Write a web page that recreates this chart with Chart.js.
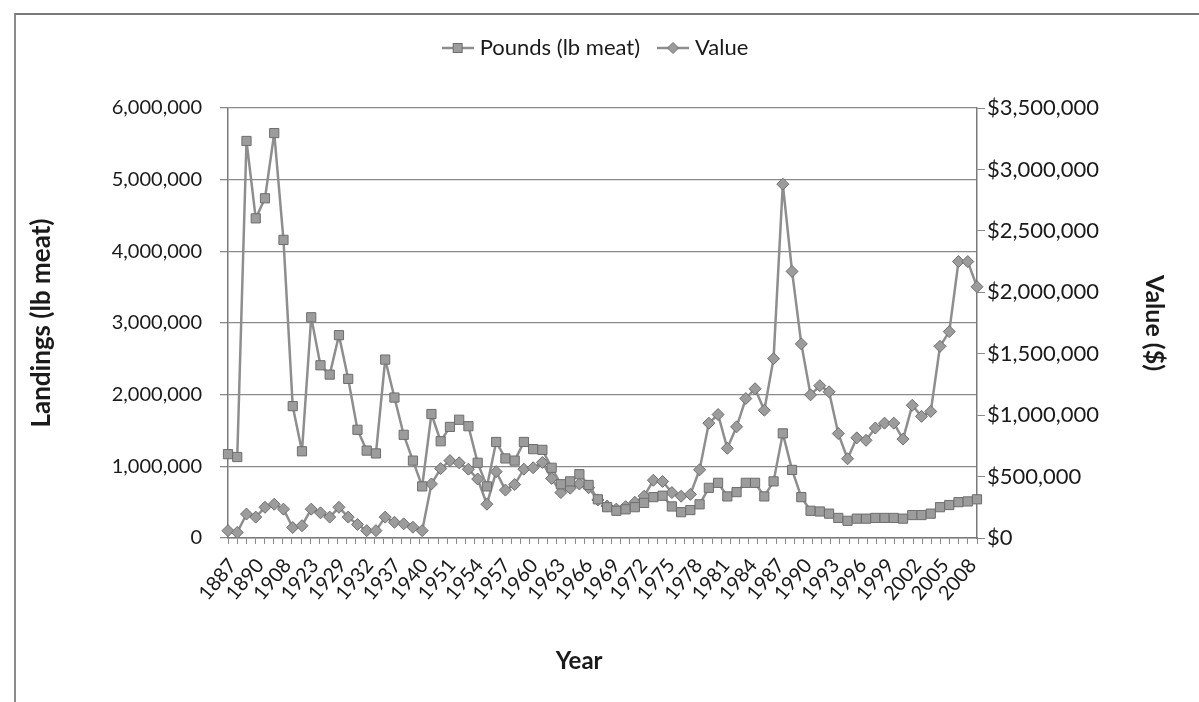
<!DOCTYPE html>
<html>
<head>
<meta charset="utf-8">
<script src="https://cdn.jsdelivr.net/npm/chart.js@4.4.1/dist/chart.umd.min.js"></script>
<style>
  html, body { margin: 0; padding: 0; background: #fff; }
  #wrap { position: relative; width: 1199px; height: 702px; overflow: hidden; }
  #frame { position: absolute; left: 14px; top: 13px; width: 1200px; height: 700px;
           border-left: 2px solid #8a8a8a; border-top: 2px solid #7a7a7a; }
  canvas { position: absolute; left: 0; top: 0; }
</style>
</head>
<body>
<div id="wrap">
  <div id="frame"></div>
  <canvas id="c" width="1199" height="702"></canvas>
</div>
<script>
// Categories (years) – only every third label is shown on the axis
const years = [
  "1887","1888","1889","1890","1897","1902","1908","1913","1919","1923",
  "1924","1928","1929","1930","1931","1932","1935","1936","1937","1938",
  "1939","1940","1945","1950","1951","1952","1953","1954","1955","1956",
  "1957","1958","1959","1960","1961","1962","1963","1964","1965","1966",
  "1967","1968","1969","1970","1971","1972","1973","1974","1975","1976",
  "1977","1978","1979","1980","1981","1982","1983","1984","1985","1986",
  "1987","1988","1989","1990","1991","1992","1993","1994","1995","1996",
  "1997","1998","1999","2000","2001","2002","2003","2004","2005","2006",
  "2007","2008"
];

// Landings, pounds of meat (left axis)
const pounds = [
  1170000,1130000,5540000,4460000,4740000,5650000,4160000,1840000,1210000,3080000,
  2410000,2280000,2830000,2220000,1510000,1220000,1180000,2490000,1960000,1440000,
  1080000,720000,1730000,1350000,1550000,1650000,1560000,1050000,720000,1340000,
  1110000,1080000,1340000,1240000,1230000,980000,750000,790000,890000,740000,
  540000,430000,380000,400000,430000,490000,570000,590000,440000,360000,
  390000,470000,700000,770000,580000,640000,770000,770000,580000,790000,
  1460000,950000,570000,380000,370000,340000,280000,240000,270000,270000,
  280000,280000,280000,270000,320000,320000,340000,430000,460000,500000,
  510000,540000
];

// Ex-vessel value, dollars (right axis)
const value = [
  60000,45000,195000,170000,250000,275000,235000,85000,100000,235000,
  205000,170000,250000,170000,110000,60000,60000,170000,128000,115000,
  88000,60000,440000,565000,630000,612000,560000,480000,275000,540000,
  390000,435000,560000,572000,615000,485000,370000,405000,440000,410000,
  310000,260000,235000,255000,290000,340000,470000,460000,370000,340000,
  355000,555000,935000,1005000,730000,905000,1135000,1215000,1040000,1460000,
  2880000,2170000,1580000,1165000,1240000,1190000,850000,645000,815000,795000,
  895000,935000,935000,805000,1080000,990000,1030000,1560000,1680000,2250000,
  2250000,2045000
];

const leftTicks = [0, 1000000, 2000000, 3000000, 4000000, 5000000, 6000000];
const rightTicks = [0, 500000, 1000000, 1500000, 2000000, 2500000, 3000000, 3500000];

const seriesNames = ["Pounds (lb meat)", "Value"];

const FONT = "Lato, 'Open Sans', 'Liberation Sans', sans-serif";
const LINE = "#8e8e8e";
const FILL = "#9c9c9c";
const EDGE = "#6e6e6e";
const TXT = "#1a1a1a";

function fmt(n) { return n.toString().replace(/\B(?=(\d{3})+(?!\d))/g, ","); }

function legendIcon(style) {
  const cv = document.createElement("canvas");
  cv.width = 32; cv.height = 16;
  const g = cv.getContext("2d");
  g.strokeStyle = LINE; g.lineWidth = 2.5;
  g.beginPath(); g.moveTo(0, 8); g.lineTo(32, 8); g.stroke();
  g.fillStyle = FILL; g.strokeStyle = EDGE; g.lineWidth = 1;
  if (style === "rect") {
    g.fillRect(11, 3, 10, 10); g.strokeRect(11.5, 3.5, 9, 9);
  } else {
    g.beginPath(); g.moveTo(16, 2.5); g.lineTo(21.5, 8); g.lineTo(16, 13.5); g.lineTo(10.5, 8); g.closePath();
    g.fill(); g.stroke();
  }
  return cv;
}
const icons = [legendIcon("rect"), legendIcon("rectRot")];

new Chart(document.getElementById("c"), {
  type: "line",
  data: {
    labels: years,
    datasets: [
      {
        label: seriesNames[0], data: pounds, yAxisID: "y",
        borderColor: LINE, borderWidth: 2.5, backgroundColor: FILL, borderJoinStyle: "round",
        pointStyle: "rect", pointRadius: 6.5, pointBorderColor: EDGE, pointBorderWidth: 1,
        pointBackgroundColor: FILL, tension: 0
      },
      {
        label: seriesNames[1], data: value, yAxisID: "y1",
        borderColor: LINE, borderWidth: 2.5, backgroundColor: FILL, borderJoinStyle: "round",
        pointStyle: "rectRot", pointRadius: 6, pointBorderColor: EDGE, pointBorderWidth: 1,
        pointBackgroundColor: FILL, tension: 0
      }
    ]
  },
  options: {
    responsive: false,
    animation: false,
    devicePixelRatio: 1,
    layout: { padding: { left: 24, right: 28, top: 15, bottom: 22 } },
    plugins: {
      tooltip: { enabled: false },
      legend: {
        display: true, position: "top", align: "center",
        labels: {
          usePointStyle: true,
          font: { family: FONT, size: 22 }, color: TXT, padding: 22,
          generateLabels: (chart) => chart.data.datasets.map((ds, i) => ({
            text: ds.label, pointStyle: icons[i], datasetIndex: i,
            fillStyle: FILL, strokeStyle: LINE, lineWidth: 0, hidden: false, fontColor: TXT
          }))
        }
      }
    },
    scales: {
      xTop: {
        type: "category", position: "top", display: true,
        grid: { display: false, drawTicks: false }, border: { display: false },
        ticks: { display: false },
        afterFit: (s) => { s.height = 39; }
      },
      x: {
        type: "category", offset: true,
        grid: { display: true, drawOnChartArea: false, offset: true, tickLength: 6, color: "#8a8a8a" },
        border: { color: "#7a7a7a", width: 1.5 },
        ticks: {
          autoSkip: false, maxRotation: 50, minRotation: 50, padding: 10,
          color: TXT, font: { family: FONT, size: 20 },
          callback: (v, i) => (i % 3 === 0 ? years[i] : "")
        },
        title: { display: true, text: "Year" + " ".repeat(8), color: TXT, font: { family: FONT, size: 24, weight: "bold" }, padding: { top: 4, bottom: 4 } },
        afterFit: (s) => { s.height = 142; }
      },
      y: {
        position: "left", min: leftTicks[0], max: leftTicks[leftTicks.length - 1],
        afterBuildTicks: (s) => { s.ticks = leftTicks.map(v => ({ value: v })); },
        grid: { color: "#8a8a8a", lineWidth: 1.3, tickLength: 8 },
        border: { color: "#7a7a7a", width: 1.5 },
        ticks: { color: TXT, font: { family: FONT, size: 20 }, padding: 18, callback: (v) => fmt(v) },
        title: { display: true, text: "Landings (lb meat)", color: TXT, font: { family: FONT, size: 26, weight: "bold" }, padding: 2 },
        afterFit: (s) => { s.width = 204; }
      },
      y1: {
        position: "right", min: rightTicks[0], max: rightTicks[rightTicks.length - 1],
        afterBuildTicks: (s) => { s.ticks = rightTicks.map(v => ({ value: v })); },
        grid: { drawOnChartArea: false, color: "#8a8a8a", tickLength: 8 },
        border: { color: "#7a7a7a", width: 1.5 },
        ticks: { color: TXT, font: { family: FONT, size: 22 }, padding: 2, callback: (v) => "$" + fmt(v) },
        title: { display: true, text: "Value ($)", color: TXT, font: { family: FONT, size: 25, weight: "bold" }, padding: 2 },
        afterFit: (s) => { s.width = 194; }
      }
    }
  }
});
</script>
</body>
</html>
